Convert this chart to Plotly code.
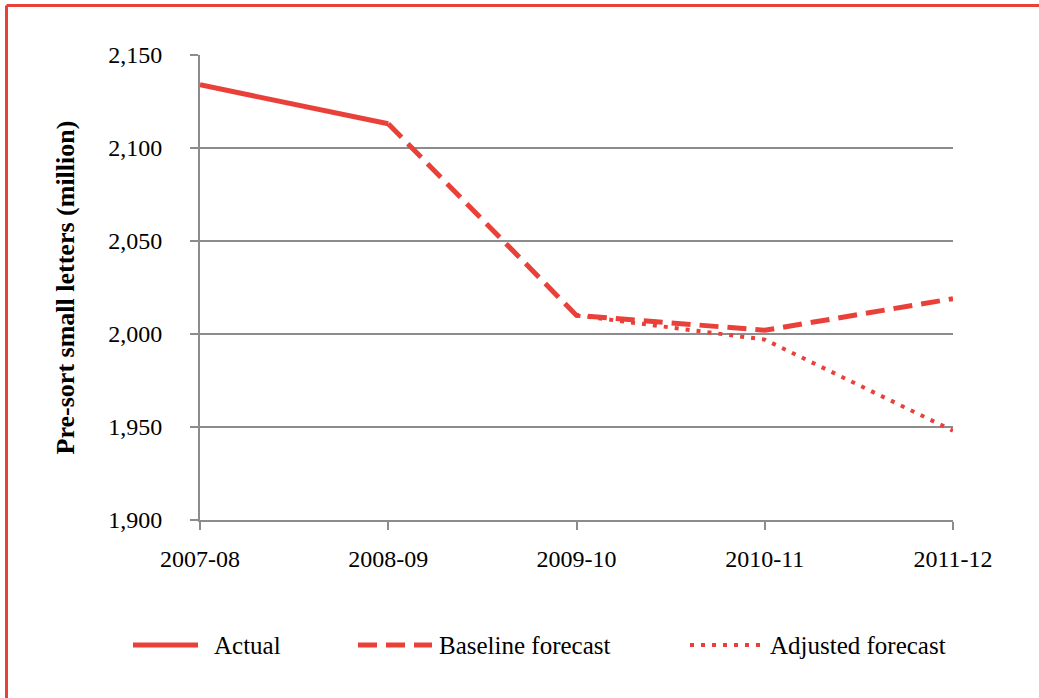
import plotly.graph_objects as go

years = ["2007-08", "2008-09", "2009-10", "2010-11", "2011-12"]
actual = [2134, 2113, None, None, None]
baseline = [None, 2113, 2010, 2002, 2019]
adjusted = [None, None, 2010, 1997, 1948]

series_names = ["Actual", "Baseline forecast", "Adjusted forecast"]
y_title = "Pre-sort small letters (million)"

RED = "#E9413A"
GRID = "#8C8C8C"
FONT = "Liberation Serif"

W, H = 1039, 698
L, R, T, B = 200, 953, 55, 520

def px(x):
    return (x - L) / (R - L)

def py(y):
    return (B - y) / (B - T)

styles = [
    dict(color=RED, width=5, dash="solid"),
    dict(color=RED, width=5, dash="19px,9px"),
    dict(color=RED, width=4, dash="4px,7px"),
]

fig = go.Figure()
for name, vals, st in zip(series_names, [actual, baseline, adjusted], styles):
    fig.add_trace(go.Scatter(x=years, y=vals, mode="lines", name=name,
                             line=st, showlegend=False, connectgaps=False))

# custom legend
leg_y = py(645)
leg_items = [(133, 198, 212), (358, 432, 437), (690, 762, 768)]
for (x0, x1, tx), name, st in zip(leg_items, series_names, styles):
    fig.add_shape(type="line", xref="paper", yref="paper",
                  x0=px(x0), x1=px(x1), y0=leg_y, y1=leg_y, line=st)
    fig.add_annotation(xref="paper", yref="paper", x=px(tx), y=leg_y,
                       text=name, showarrow=False, xanchor="left", yanchor="middle",
                       font=dict(family=FONT, size=25, color="#000"))

# outer border (top and left)
fig.add_shape(type="line", xref="paper", yref="paper",
              x0=px(6.5), x1=px(1045), y0=py(5.5), y1=py(5.5),
              line=dict(color=RED, width=3))
fig.add_shape(type="line", xref="paper", yref="paper",
              x0=px(6.5), x1=px(6.5), y0=py(5.5), y1=py(705),
              line=dict(color=RED, width=3))

fig.update_layout(
    width=W, height=H,
    margin=dict(l=L, r=W - R, t=T, b=H - B),
    paper_bgcolor="white", plot_bgcolor="white",
    font=dict(family=FONT, size=24, color="#000"),
    showlegend=False,
    xaxis=dict(type="category", categoryorder="array", categoryarray=years,
               range=[0, 4], showgrid=False, showline=True, linecolor=GRID,
               linewidth=2, ticks="outside", ticklen=8, tickcolor=GRID,
               tickwidth=2, ticklabelstandoff=8, zeroline=False,
               tickfont=dict(family=FONT, size=24)),
    yaxis=dict(range=[1900, 2150], dtick=50, tick0=1900, tickformat=",",
               showgrid=True, gridcolor=GRID, gridwidth=2,
               showline=True, linecolor=GRID, linewidth=2,
               ticks="outside", ticklen=8, tickcolor=GRID, tickwidth=2,
               ticklabelstandoff=23, zeroline=False,
               tickfont=dict(family=FONT, size=24),
               title=dict(text="<b>" + y_title + "</b>", standoff=26,
                          font=dict(family=FONT, size=26))),
)

fig.write_html("out.html", config={"displayModeBar": False},
               post_script="document.body.style.margin='0px';")
